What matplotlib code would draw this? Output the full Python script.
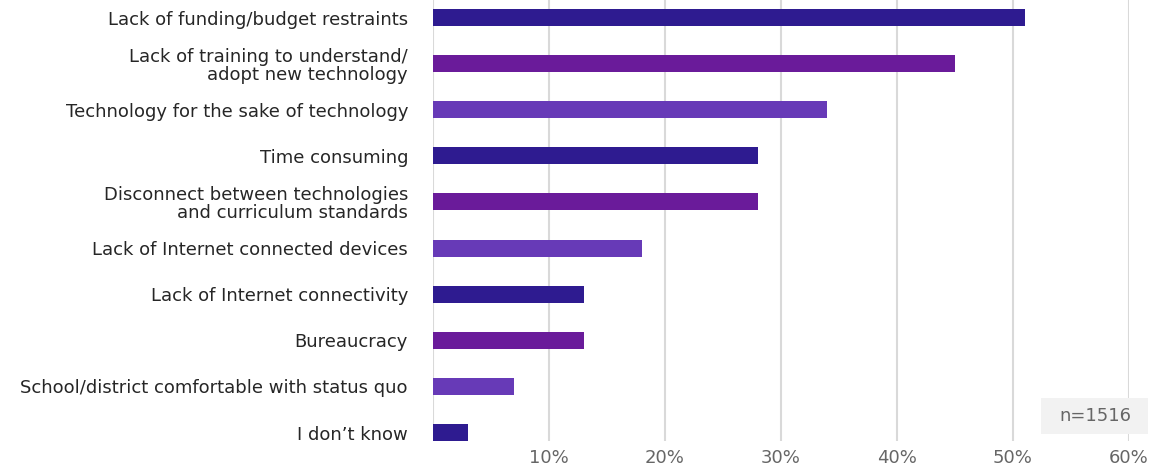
import matplotlib
matplotlib.use("Agg")
import matplotlib.pyplot as plt
from matplotlib.patches import Rectangle

categories = [
    "Lack of funding/budget restraints",
    "Lack of training to understand/\nadopt new technology",
    "Technology for the sake of technology",
    "Time consuming",
    "Disconnect between technologies\nand curriculum standards",
    "Lack of Internet connected devices",
    "Lack of Internet connectivity",
    "Bureaucracy",
    "School/district comfortable with status quo",
    "I don\u2019t know",
]
values = [51, 45, 34, 28, 28, 18, 13, 13, 7, 3]
palette = ["#2e1b90", "#6a1b9a", "#673ab7"]
xticks = [10, 20, 30, 40, 50, 60]
xtick_labels = ["10%", "20%", "30%", "40%", "50%", "60%"]
note = "n=1516"

W, H = 1167, 474
fig = plt.figure(figsize=(W / 100, H / 100), dpi=100)
left, right = 433 / W, 1129 / W
top, bottom = 1 - 0 / H, 1 - 441 / H
ax = fig.add_axes([left, bottom, right - left, top - bottom])

ypos = list(range(len(categories)))
colors = [palette[i % 3] for i in range(len(categories))]
ax.barh(ypos, values, height=0.37, color=colors, zorder=3)

ax.set_xlim(0, 60)
ax.set_ylim(9.184, -0.38)
ax.set_xticks([0] + xticks)
ax.set_xticklabels([""] + xtick_labels, color="#666666", fontsize=13,
                   family="DejaVu Sans")
ax.tick_params(axis="x", length=0, pad=6)
ax.set_yticks(ypos)
ax.set_yticklabels(categories, fontsize=13, color="#262626", family="DejaVu Sans",
                   linespacing=1.0)
ax.tick_params(axis="y", length=0, pad=18)
ax.grid(axis="x", color="#d9d9d9", linewidth=1.5, zorder=0)
for s in ax.spines.values():
    s.set_visible(False)

fig.patches.append(Rectangle((1041 / W, 1 - 434 / H), 107 / W, 36 / H,
                             transform=fig.transFigure, facecolor="#f2f2f2",
                             edgecolor="none", zorder=5))
fig.text(1095 / W, 1 - 416 / H, note, ha="center", va="center", fontsize=13,
         color="#666666", family="DejaVu Sans", zorder=6)

fig.savefig("out.png", dpi=100)
